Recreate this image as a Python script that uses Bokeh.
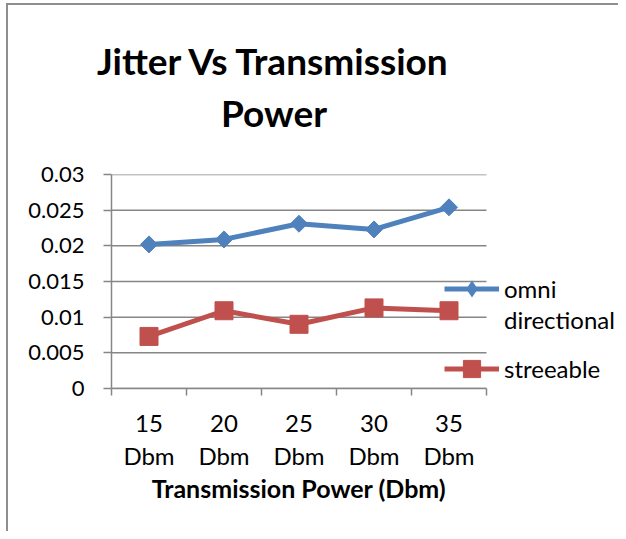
from bokeh.plotting import figure
from bokeh.models import Range1d, FixedTicker, LinearAxis, Legend, LegendItem, Title
from bokeh.embed import file_html
from bokeh.resources import INLINE
import numpy as np

categories = ["15 Dbm", "20 Dbm", "25 Dbm", "30 Dbm", "35 Dbm"]
omni = [0.0202, 0.0209, 0.0231, 0.0223, 0.0254]
streeable = [0.0073, 0.0109, 0.0090, 0.0113, 0.0109]
y_ticks = [0, 0.005, 0.01, 0.015, 0.02, 0.025, 0.03]
y_tick_labels = ["0", "0.005", "0.01", "0.015", "0.02", "0.025", "0.03"]
title_lines = ["Jitter Vs Transmission", "Power"]
x_axis_title = "Transmission Power (Dbm)"

BLUE = "#4F81BD"
RED = "#C0504D"
GRAY = "#868686"
FONT = "Lato"

n = len(categories)
x_pos = [i + 0.5 for i in range(n)]

# layout (pixels): plotted area is 375 px wide, the frame extends to the right
# edge so that the legend can sit partly over the plot without being clipped
W, H = 612, 528
LEFT, TOP, BOTTOM = 103, 169, 145
PLOT_W = 375
x_end = n * (W - LEFT) / PLOT_W
# shift (px) that centres texts over the plotted area instead of the frame
CENTER_SHIFT = int(round(2 * ((W - LEFT) / 2 - PLOT_W / 2)))

p = figure(width=W, height=H, output_backend="svg", toolbar_location=None,
           x_range=Range1d(0, x_end), y_range=Range1d(0, y_ticks[-1]),
           min_border_left=LEFT, min_border_right=0,
           min_border_top=TOP, min_border_bottom=BOTTOM)
p.styles = {"border-left": "2px solid #8e8e8e", "border-top": "2px solid #8e8e8e",
            "margin-left": "6px", "margin-top": "3px"}
p.outline_line_color = None
p.background_fill_color = "white"
p.border_fill_color = "white"
p.xgrid.visible = False
p.ygrid.visible = False

xa = p.below[0]
ya = p.left[0]

# invisible spacer between plot and title
spacer = LinearAxis(ticker=FixedTicker(ticks=[0]), major_label_overrides={0: ""},
                    axis_line_color=None, major_tick_line_color=None,
                    minor_tick_line_color=None, major_tick_out=38, major_tick_in=0,
                    major_label_standoff=0, major_label_text_font_size="1px")
p.add_layout(spacer, "above")

# title, one Title per line (closest to the frame first)
for line, so in zip(reversed(title_lines), [4, 6]):
    t = Title(text=line, align="center",
              text_font=FONT, text_font_style="bold", text_font_size="37px",
              text_color="black", standoff=so,
              padding=dict(left=0, right=CENTER_SHIFT + 50, top=0, bottom=0))
    p.add_layout(t, "above")

# horizontal grid lines over the plotted categories only
p.segment(x0=[0] * len(y_ticks), x1=[n] * len(y_ticks), y0=y_ticks, y1=y_ticks,
          line_color=GRAY, line_width=1.5, level="underlay")

# y axis
ya.ticker = FixedTicker(ticks=y_ticks)
ya.major_label_overrides = {t: l for t, l in zip(y_ticks, y_tick_labels)}
ya.axis_line_color = GRAY
ya.axis_line_width = 1.5
ya.major_tick_line_color = GRAY
ya.major_tick_line_width = 1.5
ya.major_tick_out = 8
ya.major_tick_in = 0
ya.minor_tick_line_color = None
ya.major_label_text_font = FONT
ya.major_label_text_font_size = "22px"
ya.major_label_text_color = "black"
ya.major_label_standoff = 19

# x axis: boundary ticks
xa.ticker = FixedTicker(ticks=list(range(n + 1)))
xa.bounds = (0, n)
xa.major_label_overrides = {i: "" for i in range(n + 1)}
xa.axis_line_color = GRAY
xa.axis_line_width = 1.5
xa.major_tick_line_color = GRAY
xa.major_tick_line_width = 1.5
xa.major_tick_out = 7
xa.major_tick_in = 0
xa.minor_tick_line_color = None
xa.major_label_standoff = 0
xa.major_label_text_font_size = "1px"

# x axis: category labels
xl = LinearAxis(ticker=FixedTicker(ticks=x_pos), bounds=(0, n),
                major_label_overrides={x: c.replace(" ", "\n") for x, c in zip(x_pos, categories)},
                axis_line_color=None, major_tick_line_color=None, minor_tick_line_color=None,
                major_label_text_font=FONT, major_label_text_font_size="24px",
                major_label_text_color="black", major_label_text_line_height=1.15,
                major_label_standoff=6)
p.add_layout(xl, "below")

# x axis title, centred under the plotted categories
xt = Title(text=x_axis_title, align="center", vertical_align="top",
           text_font=FONT, text_font_style="bold", text_font_size="25px",
           text_color="black", standoff=0,
           padding=dict(left=0, right=CENTER_SHIFT, top=0, bottom=0))
p.add_layout(xt, "below")

# series
bl = p.line(x_pos, omni, line_color=BLUE, line_width=5)
bm = p.scatter(x_pos, omni, marker="square", angle=np.pi / 4, size=12,
               fill_color=BLUE, line_color=BLUE)
rl = p.line(x_pos, streeable, line_color=RED, line_width=5)
rm = p.scatter(x_pos, streeable, marker="square", size=18,
               fill_color=RED, line_color=RED)
# legend key for the diamonds (legend markers are never rotated)
bm_key = p.scatter(x_pos, omni, marker="diamond", size=0,
                   fill_color=BLUE, line_color=BLUE, line_width=0)
blank_key = p.line(x=[], y=[], line_alpha=0)

common = dict(background_fill_alpha=0, border_line_color=None, padding=0, margin=0,
              spacing=0, glyph_width=55, glyph_height=43, label_height=31,
              label_standoff=5, label_text_font=FONT, label_text_font_size="24px",
              label_text_color="black")
leg_omni = Legend(items=[LegendItem(label="omni", renderers=[bl, bm_key])],
                  location=(333, 78), **common)
leg_dir = Legend(items=[LegendItem(label="directional", renderers=[blank_key])],
                 location=(333, 47), **common)
leg_str = Legend(items=[LegendItem(label="streeable", renderers=[rl, rm])],
                 location=(333, -2), **common)
for lg in (leg_omni, leg_dir, leg_str):
    p.add_layout(lg, "center")

open("out.html", "w").write(file_html(p, INLINE))
